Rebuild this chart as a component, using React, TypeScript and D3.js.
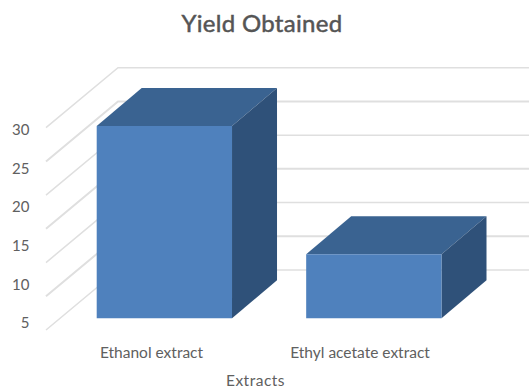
import React from "react";
import * as d3 from "d3";

const categories = ["Ethanol extract", "Ethyl acetate extract"];
const yields = [28.5, 9.5];
const gridValues = [0, 5, 10, 15, 20, 25, 30];
const tickLabels = ["5", "10", "15", "20", "25", "30"];
const title = "Yield Obtained";
const axisTitle = "Extracts";

const W = 529;
const H = 388;
const FONT = "Lato, 'Open Sans', sans-serif";
const TEXT = "#606060";

// Oblique projection of the value axis onto the side and back walls.
const wallFrontX = 46;
const wallBackX = 118;
const wallDepthY = -60;
const barDepthX = 45;
const barDepthY = -38;
const barBaseY = 318.3;

const yFront = d3.scaleLinear().domain([0, 30]).range([330, 127.7]);
const xBand = d3
  .scaleBand<string>()
  .domain(categories)
  .range([96.7, 441.5])
  .paddingInner(0.354)
  .paddingOuter(0);
const tickY = d3.scalePoint<string>().domain(tickLabels).range([323, 130]);

const path = d3.line<[number, number]>();

export default function App() {
  const perUnit = yFront(0) - yFront(1);
  return (
    <svg
      width={W}
      height={H}
      viewBox={`0 0 ${W} ${H}`}
      style={{ position: "absolute", left: 0, top: 0, background: "#fff" }}
    >
      <text
        x={262}
        y={32}
        textAnchor="middle"
        fontFamily={FONT}
        fontSize={24}
        fontWeight={400}
        fill="#555"
        stroke="#555"
        strokeWidth={0.5}
        letterSpacing={0.3}
      >
        {title}
      </text>

      {gridValues.map((v, i) => {
        const y = yFront(v);
        return (
          <g key={v} fill="none" stroke="#dfdfdf" strokeWidth={i % 2 ? 2 : 1.5}>
            <path
              d={
                path([
                  [wallFrontX, y],
                  [wallBackX, y + wallDepthY],
                  [W, y + wallDepthY],
                ]) ?? ""
              }
            />
          </g>
        );
      })}

      {tickLabels.map((t) => (
        <text
          key={t}
          x={29.5}
          y={tickY(t)}
          dy="0.35em"
          textAnchor="end"
          fontFamily={FONT}
          fontSize={15}
          fill={TEXT}
        >
          {t}
        </text>
      ))}

      {categories.map((c, i) => {
        const x0 = xBand(c) ?? 0;
        const x1 = x0 + xBand.bandwidth();
        const top = barBaseY - yields[i] * perUnit;
        const poly = (pts: [number, number][]) => (path(pts) ?? "") + "Z";
        return (
          <g key={c}>
            <path
              fill="#3a6391"
              d={poly([
                [x0, top],
                [x1, top],
                [x1 + barDepthX, top + barDepthY],
                [x0 + barDepthX, top + barDepthY],
              ])}
            />
            <path
              fill="#2f5179"
              d={poly([
                [x1, top],
                [x1 + barDepthX, top + barDepthY],
                [x1 + barDepthX, barBaseY + barDepthY],
                [x1, barBaseY],
              ])}
            />
            <path
              fill="#4f81bd"
              d={poly([
                [x0, top],
                [x1, top],
                [x1, barBaseY],
                [x0, barBaseY],
              ])}
            />
            <text
              x={i === 0 ? 151.5 : 360}
              y={353}
              dy="0.35em"
              textAnchor="middle"
              fontFamily={FONT}
              fontSize={15.5}
              fill={TEXT}
            >
              {c}
            </text>
          </g>
        );
      })}

      <text
        x={255.5}
        y={381}
        dy="0.35em"
        textAnchor="middle"
        fontFamily={FONT}
        fontSize={15.5}
        letterSpacing={0.5}
        fill={TEXT}
      >
        {axisTitle}
      </text>
    </svg>
  );
}
